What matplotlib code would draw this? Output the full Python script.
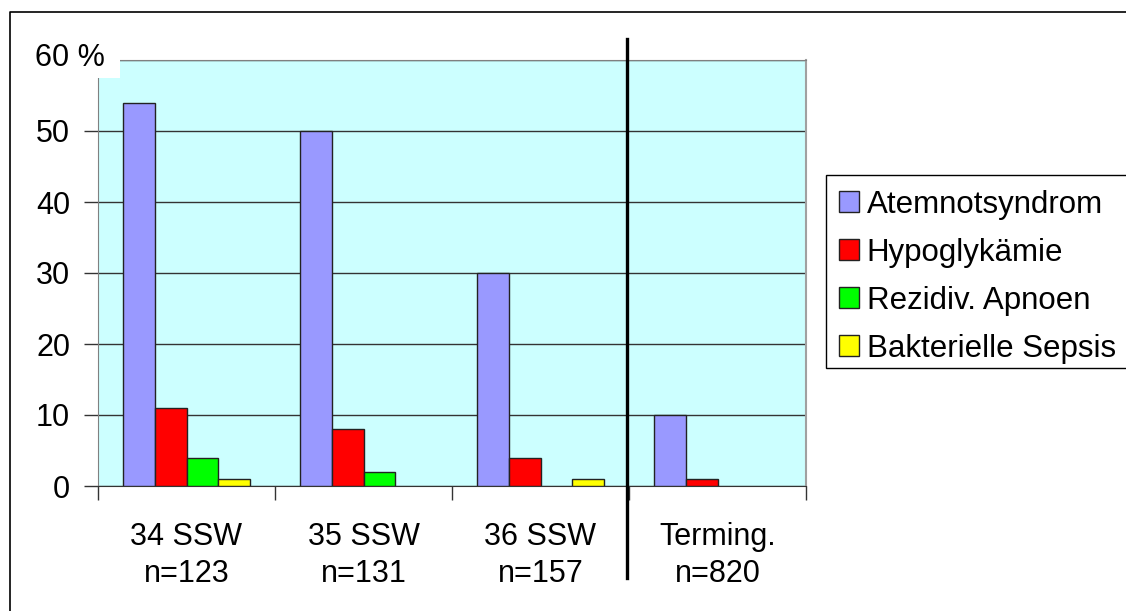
import numpy as np
import matplotlib.pyplot as plt
from matplotlib.lines import Line2D
from matplotlib.patches import Rectangle

plt.rcParams['font.family'] = ['Liberation Sans', 'DejaVu Sans']

groups = ['34 SSW\nn=123', '35 SSW\nn=131', '36 SSW\nn=157', 'Terming.\nn=820']
series = ['Atemnotsyndrom', 'Hypoglykämie', 'Rezidiv. Apnoen', 'Bakterielle Sepsis']
atemnot = [54, 50, 30, 10]
hypogly = [11, 8, 4, 1]
apnoen = [4, 2, 0, 0]
sepsis = [1, 0, 1, 0]
colors = ['#9999FF', '#FF0000', '#00FF00', '#FFFF00']

W, H = 1126, 611
fig = plt.figure(figsize=(W / 100, H / 100), dpi=100)
ax = fig.add_axes([98 / W, 1 - 486 / H, 708 / W, 426 / H])
ax.set_facecolor('#CCFFFF')

values = [atemnot, hypogly, apnoen, sepsis]
centers = np.arange(len(groups)) + 0.5
bw = 0.18
for k, (vals, col, lab) in enumerate(zip(values, colors, series)):
    xs = centers + (k - 1.5) * bw
    # zero values show no bar at all (no outline)
    lws = [1.0 if v > 0 else 0 for v in vals]
    ax.bar(xs, vals, width=bw, color=col, edgecolor='#222222', linewidth=lws,
           label=lab, zorder=3)

ax.set_xlim(0, 4)
ax.set_ylim(0, 60)
ax.set_yticks(np.arange(0, 61, 10))
ax.set_yticklabels(['0', '10', '20', '30', '40', '50', ''])
ax.yaxis.grid(True, color='#333333', linewidth=1.0, zorder=1)
ax.set_axisbelow(True)

ax.set_xticks(np.arange(0, 5))
ax.set_xticklabels([])
ax.set_xticks(centers, minor=True)
ax.set_xticklabels(groups, minor=True, fontsize=22, linespacing=1.3)
ax.tick_params(axis='x', which='minor', length=0, pad=26)
ax.tick_params(axis='x', which='major', length=10, width=1, color='#333333',
               direction='out')
ax.tick_params(axis='y', length=10, width=1, color='#333333', direction='out',
               pad=10, labelsize=22)

for s in ['left', 'top']:
    ax.spines[s].set_color('#808080')
ax.spines['right'].set_color('#A0A0A0')
ax.spines['right'].set_linewidth(1.5)
ax.spines['bottom'].set_color('#333333')

# white patch behind the "60 %" label, cutting into the plot corner
fig.add_artist(Rectangle((30 / W, 1 - 78 / H), 90 / W, 40 / H,
                         transform=fig.transFigure, facecolor='white',
                         edgecolor='none', zorder=3))
fig.text(35 / W, 1 - 58 / H, '60 %', fontsize=22, ha='left', va='center',
         zorder=4)

# separator between preterm groups and term group
fig.add_artist(Line2D([627 / W, 627 / W], [1 - 39 / H, 1 - 578 / H],
                      color='black', linewidth=2.4))
# outer chart border
fig.add_artist(Line2D([10 / W, 10 / W, 1.0], [0.0, 1 - 12 / H, 1 - 12 / H],
                      color='black', linewidth=1.2))

# legend frame runs off the right edge
fig.add_artist(Rectangle((826 / W, 1 - 368 / H), 320 / W, 193 / H,
                         transform=fig.transFigure, facecolor='white',
                         edgecolor='black', linewidth=1.0, zorder=2))
leg = fig.legend(loc='upper left', bbox_to_anchor=(826 / W, 1 - 177 / H),
                 fontsize=22.5, frameon=False,
                 handlelength=0.65, handleheight=0.65, handletextpad=0.25,
                 labelspacing=0.58, borderpad=0.4, borderaxespad=0)
leg.set_zorder(5)

fig.savefig('out.png', dpi=100)
